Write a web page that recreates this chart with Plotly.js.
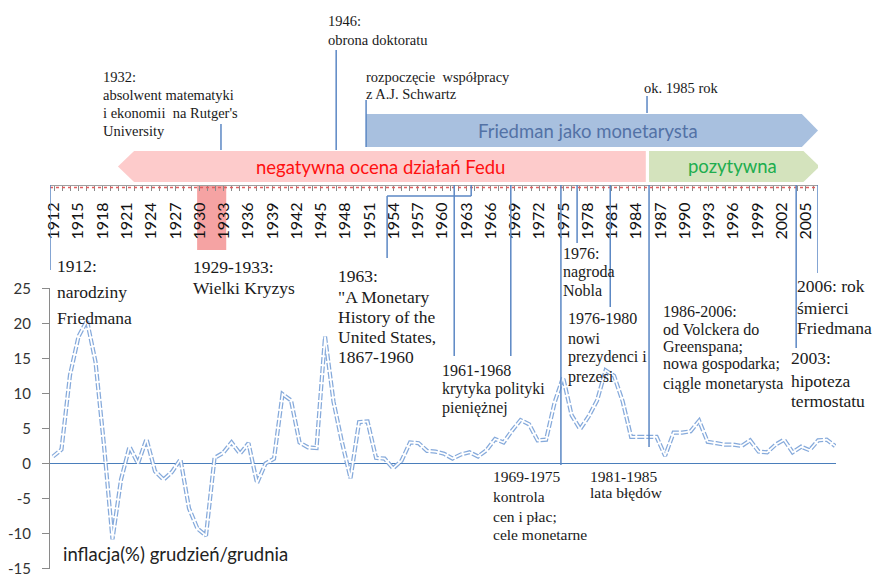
<!DOCTYPE html>
<html><head><meta charset="utf-8">
<script src="https://cdn.plot.ly/plotly-3.0.1.min.js"></script>
<style>body{margin:0;background:#fff}#chart{width:874px;height:577px}</style>
</head><body><div id="chart"></div>
<script>
// ---- data ----
const years = [1914,1915,1916,1917,1918,1919,1920,1921,1922,1923,1924,1925,1926,1927,1928,1929,1930,1931,1932,1933,1934,1935,1936,1937,1938,1939,1940,1941,1942,1943,1944,1945,1946,1947,1948,1949,1950,1951,1952,1953,1954,1955,1956,1957,1958,1959,1960,1961,1962,1963,1964,1965,1966,1967,1968,1969,1970,1971,1972,1973,1974,1975,1976,1977,1978,1979,1980,1981,1982,1983,1984,1985,1986,1987,1988,1989,1990,1991,1992,1993,1994,1995,1996,1997,1998,1999,2000,2001,2002,2003,2004,2005,2006];
const inflation = [1.0,2.0,12.6,18.1,20.4,14.5,2.6,-10.8,-2.3,2.4,0.0,3.5,-1.1,-2.3,-1.2,0.6,-6.4,-9.3,-10.3,0.8,1.5,3.0,1.4,2.9,-2.8,0.0,0.7,9.9,9.0,3.0,2.3,2.2,18.1,8.8,3.0,-2.1,5.9,6.0,0.8,0.7,-0.7,0.4,3.0,2.9,1.8,1.7,1.4,0.7,1.3,1.6,1.0,1.9,3.5,3.0,4.7,6.2,5.6,3.3,3.4,8.7,12.3,6.9,4.9,6.7,9.0,13.3,12.5,8.9,3.8,3.8,3.9,3.8,1.1,4.4,4.4,4.6,6.1,3.1,2.9,2.7,2.7,2.5,3.3,1.7,1.6,2.7,3.4,1.6,2.4,1.9,3.3,3.4,2.5];
const yTicks = [-15,-10,-5,0,5,10,15,20,25];
const yTickLabels = ['-15','-10','-5','0','5','10','15','20','25'];
const timelineFirst = 1912, timelineLast = 2006, timelineStep = 3;
const crisisYears = [1930, 1933];
const periodNames = ['Friedman jako monetarysta','negatywna ocena działań Fedu','pozytywna'];
const periodFrom  = [1950.6, 1985.2, 1985.6];
const periodTo    = [2006.5, 1919.9, 2006.7];
const seriesLabel = 'inflacja(%) grudzień/grudnia';

// ---- helpers (pixel -> paper) ----
const W = 874, H = 577;
const px = x => x / W;
const py = y => 1 - y / H;

const lineBlue = '#5b87c4';
const shapes = [];
// crisis highlight
shapes.push({type:'rect', xref:'x2', yref:'paper', x0:crisisYears[0]-0.3, x1:crisisYears[1]+0.3,
  y0:py(250), y1:py(185.5), fillcolor:'#f5a3a3', line:{width:0}, layer:'below'});
// red dotted along timeline axis
shapes.push({type:'line', xref:'x2', yref:'paper', x0:timelineFirst-0.5, x1:timelineLast+0.5,
  y0:py(187.5), y1:py(187.5), line:{color:'#e06060', width:1.3, dash:'dot'}});
// arrows
function arrow(x0, x1, yt, yb, color) {
  const dir = x1 > x0 ? 1 : -1;
  const xh = x1 - dir * 2.0;
  const ym = (py(yt) + py(yb)) / 2;
  return {type:'path', xref:'x2', yref:'paper', layer:'below',
    path:`M${x0},${py(yt)} L${xh},${py(yt)} L${x1},${ym} L${xh},${py(yb)} L${x0},${py(yb)} Z`,
    fillcolor:color, line:{width:0}};
}
shapes.push(arrow(periodFrom[0], periodTo[0], 114, 147, '#a8c0df'));
shapes.push(arrow(periodFrom[1], periodTo[1], 151, 182, '#fdcbcb'));
shapes.push(arrow(periodFrom[2], periodTo[2], 151, 182, '#d4e3bd'));

// connector lines: [x (timeline years), yTop px, yBottom px]
const connectors = [
  [1911.5, 185, 270], [1932.65, 124, 150], [1946.9, 50, 150], [1950.6, 100, 147],
  [1985.35, 96, 113], [1961.5, 185, 356], [1968.5, 185, 356], [1974.7, 185, 465],
  [1976.7, 185, 243], [1980.8, 185, 307], [1985.6, 185, 447], [2003.8, 185, 348],
  [2006.5, 185, 273], [1963.6, 185, 196], [1953.2, 196, 258]
];
connectors.forEach(c => shapes.push({type:'line', xref:'x2', yref:'paper', x0:c[0], x1:c[0],
  y0:py(c[1]), y1:py(c[2]), line:{color:lineBlue, width:1.5}}));
shapes.push({type:'line', xref:'x2', yref:'paper', x0:1953.2, x1:1963.6, y0:py(196), y1:py(196),
  line:{color:lineBlue, width:1.5}});

// ---- text ----
const annotations = [];
function block(x, ys, lines, size, family, color) {
  lines.forEach((t, i) => annotations.push({xref:'paper', yref:'paper', x:px(x-2), y:py(ys[i]),
    xanchor:'left', yanchor:'middle', showarrow:false, text:t,
    font:{family: family || 'Liberation Serif', size:size, color: color || '#1a1a1a'}}));
}
block(328, [21, 40], ['1946:', 'obrona doktoratu'], 14.5);
block(103, [77, 95, 113, 131], ['1932:', 'absolwent matematyki', 'i ekonomii  na Rutger\'s', 'University'], 14.5);
block(366, [77, 94], ['rozpoczęcie  współpracy', 'z A.J. Schwartz'], 14.5);
block(644, [88], ['ok. 1985 rok'], 14.5);
block(57, [266, 292, 318], ['1912:', 'narodziny', 'Friedmana'], 17.5);
block(193, [267, 288], ['1929-1933:', 'Wielki Kryzys'], 17.5);
block(338, [276, 297, 317, 337, 357], ['1963:', '"A Monetary', 'History of the', 'United States,', '1867-1960'], 17.5);
block(442, [370, 389, 408], ['1961-1968', 'krytyka polityki', 'pieniężnej'], 16);
block(563, [253, 272, 290], ['1976:', 'nagroda', 'Nobla'], 16);
block(568, [318, 338, 357, 377], ['1976-1980', 'nowi', 'prezydenci i', 'prezesi'], 16);
block(663, [311, 330, 347, 364, 384], ['1986-2006:', 'od Volckera do', 'Greenspana;', 'nowa gospodarka;', 'ciągle monetarysta'], 16);
block(797, [286, 308, 328], ['2006: rok', 'śmierci', 'Friedmana'], 17.5);
block(791, [358, 381, 401], ['2003:', 'hipoteza', 'termostatu'], 17.5);
block(493, [476, 496, 516, 534], ['1969-1975', 'kontrola', 'cen i płac;', 'cele monetarne'], 15.5);
block(590, [476, 492], ['1981-1985', 'lata błędów'], 15.5);
block(63, [554], [seriesLabel], 18.5, 'Lato', '#222');

function centered(x, y, t, color) {
  annotations.push({xref:'paper', yref:'paper', x:px(x), y:py(y), xanchor:'center', yanchor:'middle',
    showarrow:false, text:t, font:{family:'Lato', size:18.5, color:color}});
}
centered(588, 131, periodNames[0], '#5372a6');
centered(380, 167, periodNames[1], '#ff1010');
centered(732, 166, periodNames[2], '#20ad4e');

// ---- traces ----
const traces = [
  {x: years, y: inflation, mode:'lines', line:{color:'#86aadb', width:4.2, dash:'7px,2px'},
   hoverinfo:'skip', showlegend:false},
  {x: years, y: inflation, mode:'lines', line:{color:'#ffffff', width:1.7},
   hoverinfo:'skip', showlegend:false},
  {x:[timelineFirst], y:[0], xaxis:'x2', yaxis:'y2', mode:'markers', marker:{opacity:0},
   hoverinfo:'skip', showlegend:false}
];

const layout = {
  width: W, height: H, margin:{l:0, r:0, t:0, b:0}, paper_bgcolor:'#fff', plot_bgcolor:'rgba(0,0,0,0)',
  showlegend:false,
  xaxis: {domain:[px(50), px(836)], range:[1913.65, 2006.1], visible:false, fixedrange:true},
  yaxis: {domain:[py(569), py(288.2)], range:[-15.05, 25.01], tickmode:'array', tickvals:yTicks, ticktext:yTickLabels,
    ticks:'outside', ticklen:7, tickcolor:'#8a8a8a', showline:true, linecolor:'#8a8a8a', linewidth:1,
    showgrid:false, zeroline:true, zerolinecolor:'#4a7ebb', zerolinewidth:1.5, ticklabeloverflow:'allow',
    tickfont:{family:'Lato', size:15, color:'#333'}, ticklabelstandoff:8, fixedrange:true},
  xaxis2: {domain:[px(50), px(818)], anchor:'y2', range:[timelineFirst-0.5, timelineLast+0.5],
    tickmode:'linear', tick0:timelineFirst, dtick:timelineStep, tickangle:-90,
    ticks:'outside', ticklen:5, tickcolor:'#8a8a8a', showline:true, linecolor:'#a0a0a0', linewidth:1,
    minor:{dtick:1, tick0:timelineFirst, ticks:'outside', ticklen:5, tickcolor:'#8a8a8a'},
    showgrid:false, zeroline:false, tickfont:{family:'Lato', size:16, color:'#111'},
    ticklabelstandoff:5, fixedrange:true},
  yaxis2: {domain:[py(185), 1], range:[0, 1], visible:false, fixedrange:true},
  shapes: shapes, annotations: annotations
};
Plotly.newPlot('chart', traces, layout, {displayModeBar:false, staticPlot:true});
</script>
</body></html>
